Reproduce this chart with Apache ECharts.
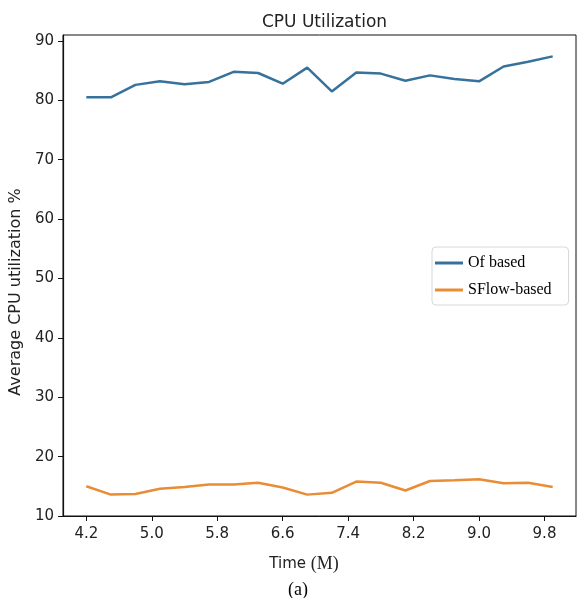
<!DOCTYPE html>
<html>
<head>
<meta charset="utf-8">
<script src="https://cdn.jsdelivr.net/npm/echarts@6/dist/echarts.min.js"></script>
<style>html,body{margin:0;padding:0;background:#fff;}#c{width:577px;height:598px;}</style>
</head>
<body>
<div id="c"></div>
<script>
const times = [4.2,4.5,4.8,5.1,5.4,5.7,6.0,6.3,6.6,6.9,7.2,7.5,7.8,8.1,8.4,8.7,9.0,9.3,9.6,9.9];
const ofBased = [80.5,80.5,82.6,83.2,82.7,83.1,84.8,84.6,82.8,85.5,81.5,84.7,84.5,83.3,84.2,83.6,83.2,85.7,86.5,87.4];
const sflowBased = [15.0,13.6,13.7,14.6,14.9,15.3,15.3,15.6,14.8,13.6,13.9,15.8,15.6,14.3,15.9,16.0,16.2,15.5,15.6,14.9];
const xTicks = [4.2,5.0,5.8,6.6,7.4,8.2,9.0,9.8];
const yTicks = [10,20,30,40,50,60,70,80,90];
const seriesNames = ['Of based','SFlow-based'];

const chart = echarts.init(document.getElementById('c'), null, {renderer:'canvas'});
const pair = (xs, ys) => xs.map((x,i)=>[x, ys[i]]);
const sans = 'DejaVu Sans';
const serif = 'Liberation Serif';
chart.setOption({
  animation:false,
  backgroundColor:'#fff',
  title:[
    {text:'CPU Utilization', left:319.5, top:9, textAlign:'center',
     textStyle:{fontFamily:sans, fontSize:17, fontWeight:'normal', color:'#222'}},
    {text:'(a)', left:293, top:576, textAlign:'center',
     textStyle:{fontFamily:serif, fontSize:18, fontWeight:'normal', color:'#000'}}
  ],
  grid:{left:63, right:1, top:35, bottom:82, show:true, borderColor:'#111', borderWidth:1},
  legend:{
    orient:'vertical', left:432, top:247,
    data:seriesNames,
    icon:'rect', itemWidth:28, itemHeight:3, itemGap:9,
    padding:[7,17,6,3],
    borderColor:'#d8d8d8', borderWidth:1, borderRadius:4, backgroundColor:'#fff',
    textStyle:{fontFamily:serif, fontSize:16, color:'#000', lineHeight:18}
  },
  xAxis:{
    type:'value', min:3.915, max:10.185,
    name:'{a|Time }{b|(M)}', nameLocation:'middle', nameGap:39,
    nameTextStyle:{padding:[0,31,0,0], rich:{a:{fontFamily:sans, fontSize:15, color:'#222'}, b:{fontFamily:serif, fontSize:18, color:'#222'}}},
    axisLine:{show:true, lineStyle:{color:'#111', width:1.2}},
    axisTick:{show:true, length:5, lineStyle:{color:'#111'}, customValues:xTicks},
    axisLabel:{customValues:xTicks, formatter:v=>Number(v).toFixed(1), fontFamily:sans, fontSize:15, color:'#222', margin:11},
    splitLine:{show:false}
  },
  yAxis:{
    type:'value', min:10, max:91,
    name:'Average CPU utilization %', nameLocation:'middle', nameGap:34, nameRotate:90,
    nameTextStyle:{fontFamily:sans, fontSize:16, color:'#222', padding:[0,33,0,0]},
    axisLine:{show:true, lineStyle:{color:'#111', width:1.2}},
    axisTick:{show:true, length:5, lineStyle:{color:'#111'}, customValues:yTicks},
    axisLabel:{customValues:yTicks, fontFamily:sans, fontSize:15, color:'#222', margin:9},
    splitLine:{show:false}
  },
  series:[
    {name:seriesNames[0], type:'line', data:pair(times, ofBased), showSymbol:false, symbol:'none',
     lineStyle:{color:'#36729c', width:2.5}, itemStyle:{color:'#36729c'}},
    {name:seriesNames[1], type:'line', data:pair(times, sflowBased), showSymbol:false, symbol:'none',
     lineStyle:{color:'#e88c35', width:2.5}, itemStyle:{color:'#e88c35'}}
  ]
});
</script>
</body>
</html>
